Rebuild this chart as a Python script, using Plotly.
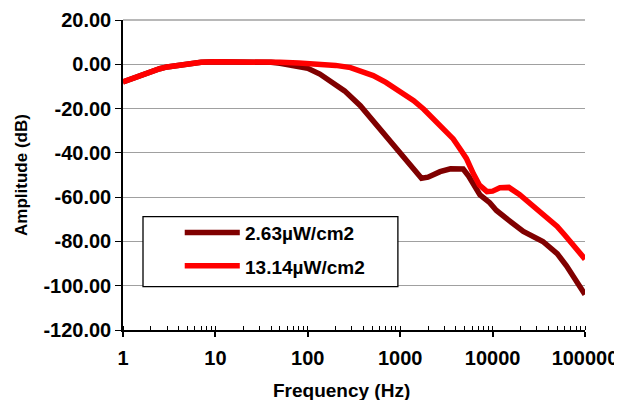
import plotly.graph_objects as go

# ---- data ----
freq_263 = [1, 1.5, 2, 2.5, 3, 4, 5, 7, 10, 15, 20, 30, 40, 50, 70, 100, 135, 190,
            250, 370, 500, 780, 1000, 1400, 1700, 2000, 2700, 3500, 4800, 5500, 6200,
            7300, 9300, 11000, 15000, 21500, 35000, 50000, 63000, 75000, 100000]
amp_263 = [-8.0, -5.3, -3.2, -2.0, -1.2, -0.3, 0.3, 0.9, 1.1, 1.2, 1.2, 1.1, 0.9, 0.5,
           -0.4, -1.8, -4.4, -8.5, -12.0, -18.7, -25.0, -34.5, -40.0, -46.5, -51.5,
           -51.0, -48.5, -47.2, -47.3, -50.5, -54.5, -59.0, -62.5, -66.0, -70.5,
           -75.5, -80.0, -85.5, -91.0, -96.0, -104.0]

freq_1314 = [1, 1.5, 2, 2.5, 3, 4, 5, 7, 10, 15, 20, 30, 40, 50, 80, 135, 200, 290,
             400, 510, 700, 840, 1000, 1400, 1800, 2300, 3000, 3750, 4660, 5200, 6200,
             7200, 8700, 10000, 12000, 15000, 19500, 25000, 32500, 40000, 50000,
             60000, 74000, 100000]
amp_1314 = [-8.0, -5.3, -3.2, -2.0, -1.2, -0.3, 0.3, 0.9, 1.1, 1.2, 1.2, 1.1, 1.0, 0.9,
            0.6, 0.2, -0.5, -1.5, -3.2, -5.1, -8.2, -10.4, -12.5, -16.4, -20.3, -24.7,
            -29.5, -33.7, -39.5, -42.5, -49.5, -54.5, -57.5, -57.3, -55.8, -55.6,
            -58.8, -62.5, -66.8, -70.0, -73.2, -77.0, -81.2, -88.0]

series_names = ["2.63\u00b5W/cm2", "13.14\u00b5W/cm2"]
series_colors = ["#800000", "#FF0000"]

x_tickvals = [1, 10, 100, 1000, 10000, 100000]
x_ticktext = ["1", "10", "100", "1000", "10000", "100000"]
y_tickvals = [20, 0, -20, -40, -60, -80, -100, -120]
y_ticktext = ["20.00", "0.00", "-20.00", "-40.00", "-60.00", "-80.00", "-100.00", "-120.00"]

FONT = "Liberation Sans, Arial, sans-serif"
Y_MIN, Y_MAX = -120, 20

fig = go.Figure()
for fx, fy, name, col in [(freq_263, amp_263, series_names[0], series_colors[0]),
                          (freq_1314, amp_1314, series_names[1], series_colors[1])]:
    fig.add_trace(go.Scatter(x=fx, y=fy, mode="lines", name=name,
                             line=dict(color=col, width=5.5), showlegend=False))

fig.update_layout(
    width=614, height=392,
    margin=dict(l=115, r=37, t=12, b=70, autoexpand=False),
    paper_bgcolor="white", plot_bgcolor="white",
    font=dict(family=FONT, size=18, color="black", weight="bold"),
    xaxis=dict(
        type="log", range=[0, 5], automargin=False, ticklabeloverflow="allow",
        tickvals=x_tickvals, ticktext=x_ticktext,
        ticks="outside", ticklen=5, tickwidth=1.5, tickcolor="black",
        minor=dict(ticks="inside", ticklen=4, tickwidth=1.2, tickcolor="black",
                   dtick="D1", showgrid=False),
        showline=True, linecolor="black", linewidth=1.5,
        showgrid=False, zeroline=False,
        tickfont=dict(size=20, family=FONT, weight="bold"),
        ticklabelstandoff=4,
    ),
    xaxis2=dict(
        type="log", range=[0, 5], overlaying="x", matches="x", anchor="y",
        side="bottom", tickvals=x_tickvals, ticks="inside", ticklen=5,
        tickwidth=1.5, tickcolor="black", showticklabels=False,
        showline=False, showgrid=False, zeroline=False, automargin=False,
    ),
    yaxis=dict(
        range=[Y_MIN, Y_MAX], tickvals=y_tickvals, ticktext=y_ticktext, automargin=False,
        ticklabeloverflow="allow",
        ticks="outside", ticklen=6, tickwidth=1.2, tickcolor="black",
        showline=True, linecolor="black", linewidth=1.5,
        showgrid=True, gridcolor="#A0A0A0", gridwidth=1, zeroline=False,
        tickfont=dict(size=20, family=FONT, weight="bold"),
        title=dict(text="Amplitude (dB)", font=dict(size=17, family=FONT, weight="bold"),
                   standoff=11),
    ),
)

# top gridline (plotly omits the gridline at the very edge of the range)
fig.add_shape(type="line", xref="paper", yref="paper", x0=0, x1=1, y0=1, y1=1,
              line=dict(color="#A0A0A0", width=1.5), layer="above")

# x-axis title, placed where the reference shows it
fig.add_annotation(xref="paper", yref="paper", x=0.474, y=-0.195,
                   text="Frequency (Hz)", showarrow=False,
                   xanchor="center", yanchor="middle",
                   font=dict(size=19, family=FONT, color="black", weight="bold"))

# ---- legend box (drawn to match the reference layout) ----
fig.add_shape(type="rect", xref="paper", yref="paper",
              x0=0.0433, x1=0.595, y0=0.1397, y1=0.3655,
              line=dict(color="black", width=1.3), fillcolor="white", layer="above")
leg_y = [0.3148, 0.2074]
for yy, name, col in zip(leg_y, series_names, series_colors):
    fig.add_shape(type="line", xref="paper", yref="paper",
                  x0=0.1336, x1=0.2528, y0=yy, y1=yy,
                  line=dict(color=col, width=5.5), layer="above")
    fig.add_annotation(xref="paper", yref="paper", x=0.2593, y=yy - 0.005,
                       text=name, showarrow=False, xanchor="left", yanchor="middle",
                       font=dict(size=19, family=FONT, color="black", weight="bold"))

fig.write_html("out.html")
